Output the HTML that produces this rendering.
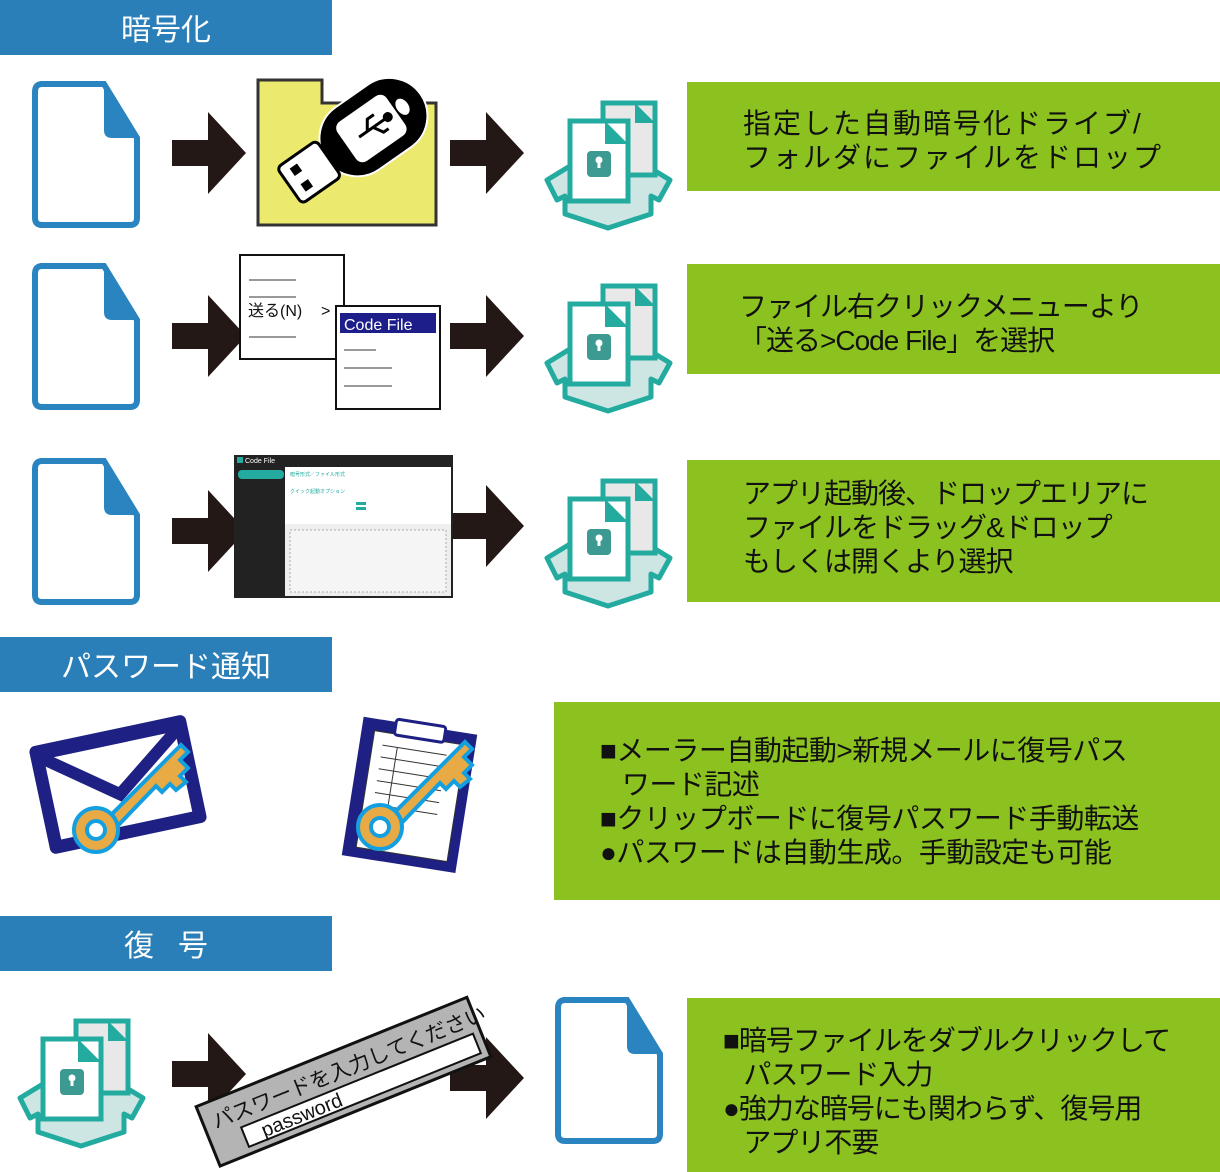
<!DOCTYPE html>
<html><head><meta charset="utf-8">
<style>
body{margin:0;width:1220px;height:1172px;background:#fff;position:relative;overflow:hidden;font-family:"Liberation Sans","Noto Sans CJK JP",sans-serif}
.hdr{position:absolute;left:0;width:332px;height:55px;background:#2a7fb8;color:#fff;font-size:30px;text-align:center;line-height:62px}
.gb{position:absolute;background:#8cc21f;color:#111;font-size:28px;line-height:34px;box-sizing:border-box}
svg{position:absolute;left:0;top:0}
</style></head><body>
<div class="hdr" style="top:0">暗号化</div>
<div class="hdr" style="top:637px">パスワード通知</div>
<div class="hdr" style="top:916px;letter-spacing:24px;text-indent:24px">復号</div>

<div class="gb" style="left:687px;top:82px;width:533px;height:109px;padding:25px 0 0 56px;letter-spacing:2px">指定した自動暗号化ドライブ/<br>フォルダにファイルをドロップ</div>
<div class="gb" style="left:687px;top:264px;width:533px;height:110px;padding:26px 0 0 52px;letter-spacing:-1px">ファイル右クリックメニューより<br>「送る&gt;Code File」を選択</div>
<div class="gb" style="left:687px;top:460px;width:533px;height:142px;padding:17px 0 0 56px;letter-spacing:-1px">アプリ起動後、ドロップエリアに<br>ファイルをドラッグ&amp;ドロップ<br>もしくは開くより選択</div>
<div class="gb" style="left:554px;top:702px;width:666px;height:198px;padding:32px 0 0 46px;letter-spacing:-0.5px">■メーラー自動起動&gt;新規メールに復号パス<br>&nbsp;&nbsp;&nbsp;ワード記述<br>■クリップボードに復号パスワード手動転送<br>●パスワードは自動生成。手動設定も可能</div>
<div class="gb" style="left:687px;top:998px;width:533px;height:174px;padding:26px 0 0 36px;letter-spacing:-1px">■暗号ファイルをダブルクリックして<br>&nbsp;&nbsp;&nbsp;パスワード入力<br>●強力な暗号にも関わらず、復号用<br>&nbsp;&nbsp;&nbsp;アプリ不要</div>

<svg width="1220" height="1172" viewBox="0 0 1220 1172">
<defs>
<g id="file">
<path d="M6,0 H70 L103,54 V134 Q103,141 96,141 H8 Q1,141 1,134 V8 Q1,0 8,0Z" fill="#fff" stroke="#2a84c0" stroke-width="6"/>
<path d="M70,0 L103,54 H78 Q70,54 70,46Z" fill="#2a84c0"/>
</g>
<g id="arr"><path d="M0,15 H36 V-13 L74,28 L36,69 V41 H0Z" fill="#231815"/></g>
<g id="enc">
<path d="M27,68 L4,82 L14,102 L22,98 V116 L65,130 L108,116 V98 L116,102 L127,82 L104,68Z" fill="#cde6e4" stroke="#23aba0" stroke-width="5" stroke-linejoin="round"/>
<rect x="60" y="5" width="52" height="72" fill="#e8e8e8" stroke="#23aba0" stroke-width="5"/>
<path d="M92,5 L112,25 H92Z" fill="#23aba0"/>
<rect x="27" y="23" width="58" height="80" fill="#fff" stroke="#23aba0" stroke-width="5"/>
<path d="M62,23 L85,46 H62Z" fill="#23aba0"/>
<rect x="44" y="53" width="24" height="26" rx="4" fill="#3d9a92"/>
<circle cx="56" cy="62" r="3.5" fill="#fff"/><rect x="54.5" y="62" width="3" height="8" fill="#fff"/>
</g>
<g id="key">
<path d="M0,0 L85,-85 L92,-78 L84,-70 L92,-62 L84,-54 L90,-48 L80,-40 L74,-46 L66,-38 L60,-44 L10,8Z" fill="#e8aa45" stroke="#14a0e0" stroke-width="4"/>
<circle cx="0" cy="0" r="22" fill="#e8aa45" stroke="#14a0e0" stroke-width="4"/>
<circle cx="0" cy="0" r="9" fill="#fff" stroke="#14a0e0" stroke-width="4"/>
</g>
</defs>

<use href="#file" x="34" y="84"/>
<use href="#file" x="34" y="266"/>
<use href="#file" x="34" y="461"/>
<use href="#file" x="557" y="1000"/>

<use href="#arr" x="172" y="125"/><use href="#arr" x="450" y="125"/>
<use href="#arr" x="172" y="308"/><use href="#arr" x="450" y="308"/>
<use href="#arr" x="172" y="503"/><use href="#arr" x="450" y="498"/>
<use href="#arr" x="172" y="1046"/><use href="#arr" x="450" y="1050"/>

<use href="#enc" x="543" y="98"/>
<use href="#enc" x="543" y="281"/>
<use href="#enc" x="543" y="476"/>
<use href="#enc" x="16" y="1016"/>

<!-- folder + usb -->
<path d="M258,80 H322 V103 H436 V225 H258Z" fill="#ece96f" stroke="#333" stroke-width="3"/>
<g transform="translate(355,140) rotate(-35)">
<rect x="-35" y="-38" width="115" height="76" rx="38" fill="#000" stroke="#fff" stroke-width="2"/>
<rect x="-10" y="-24" width="60" height="48" rx="8" fill="#fff"/>
<rect x="-80" y="-22" width="48" height="44" rx="5" fill="#fff" stroke="#000" stroke-width="3"/>
<rect x="-70" y="-14" width="9" height="9" fill="#000"/><rect x="-70" y="5" width="9" height="9" fill="#000"/>
<ellipse cx="58" cy="0" rx="6" ry="9" fill="#fff"/>
<path d="M5,0 H40 M15,0 L22,-10 H30 M22,0 L28,10 H34" stroke="#000" stroke-width="3" fill="none"/>
<circle cx="40" cy="0" r="5"/>
</g>

<!-- context menu -->
<rect x="240" y="255" width="104" height="104" fill="#fff" stroke="#111" stroke-width="2"/>
<path d="M249,280 H296 M249,297 H296 M249,337 H296" stroke="#333" stroke-width="1"/>
<text x="248" y="316" font-size="16" fill="#111">送る(N)</text>
<text x="321" y="316" font-size="16" fill="#111">&gt;</text>
<rect x="336" y="306" width="104" height="103" fill="#fff" stroke="#111" stroke-width="2"/>
<rect x="340" y="313" width="96" height="20" fill="#1e1e8a"/>
<text x="344" y="330" font-size="16" fill="#fff">Code File</text>
<path d="M344,350 H376 M344,368 H392 M344,386 H392" stroke="#333" stroke-width="1"/>

<!-- app screenshot -->
<rect x="234" y="455" width="219" height="143" fill="#222"/>
<rect x="285" y="467" width="166" height="129" fill="#fff"/>
<rect x="285" y="524" width="166" height="72" fill="#eee"/>
<rect x="290" y="530" width="156" height="62" fill="#f5f5f5" stroke="#aaa" stroke-dasharray="2,2"/>
<rect x="238" y="470" width="46" height="9" rx="4" fill="#23aba0"/>
<rect x="237" y="457" width="6" height="6" fill="#23aba0"/>
<text x="245" y="463" font-size="7" fill="#fff">Code File</text>
<rect x="356" y="502" width="10" height="3" fill="#23aba0"/><rect x="356" y="507" width="10" height="3" fill="#23aba0"/>
<text x="290" y="476" font-size="5" fill="#23aba0">暗号形式／ファイル形式</text>
<text x="290" y="493" font-size="5" fill="#23aba0">クイック起動オプション</text>

<!-- envelope -->
<g transform="rotate(-12 115 780)">
<rect x="37" y="730" width="160" height="110" rx="6" fill="#1e2083"/>
<rect x="50" y="745" width="134" height="82" fill="#fff"/>
<path d="M50,745 L117,795 L184,745" fill="none" stroke="#1e2083" stroke-width="12"/>
</g>
<use href="#key" x="96" y="830"/>
<!-- clipboard -->
<g transform="rotate(9 410 795)">
<rect x="352" y="725" width="115" height="140" fill="#1e2083"/>
<rect x="365" y="737" width="92" height="118" fill="#fff" stroke="#333"/>
<rect x="385" y="722" width="50" height="16" rx="3" fill="#fff" stroke="#1e2083" stroke-width="3"/>
<path d="M375,750 H440 M375,762 H440 M375,774 H440 M375,786 H440 M375,798 H440 M375,810 H440 M390,750 V820" stroke="#333" stroke-width="1"/>
</g>
<use href="#key" x="380" y="827"/>

<!-- password dialog -->
<g transform="rotate(-22 342 1078)">
<rect x="196" y="1050" width="292" height="64" fill="#b4b4b4" stroke="#111" stroke-width="3"/>
<text x="206" y="1078" font-size="21" fill="#111">パスワードを入力してください</text>
<rect x="230" y="1086" width="250" height="21" fill="#fff" stroke="#111" stroke-width="2"/>
<text x="248" y="1104" font-size="20" fill="#111">password</text>
</g>
</svg>
</body></html>
